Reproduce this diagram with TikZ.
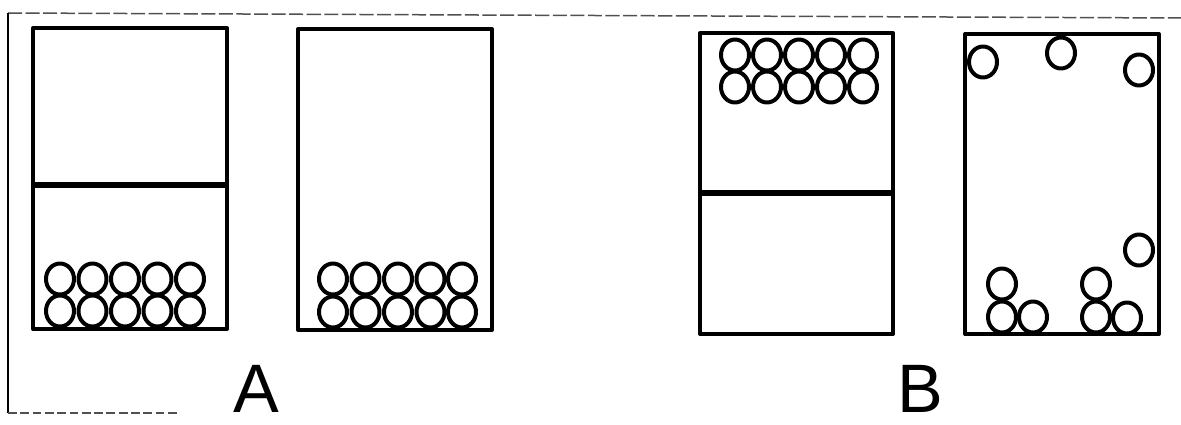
\documentclass[tikz,border=0pt]{standalone}
\usepackage{fontspec}
\setmainfont{Liberation Sans}
\usepackage{tikz}
\definecolor{scangray}{HTML}{505050}

\begin{document}
\begin{tikzpicture}[x=0.2mm, y=-0.2mm, line join=round]
  \tikzset{
    vessel/.style={line width=0.8mm},
    wall/.style={line width=1.2mm},
    ball/.style={line width=0.8mm},
    tag/.style={font=\fontsize{39}{41}\selectfont, inner sep=0pt}
  }
  \useasboundingbox (0,0) rectangle (1181,425);
  % frame left over from the scan
  \draw[scangray, line width=0.3mm, dash pattern=on 8pt off 2pt] (8,13) -- (1181,18);
  \draw[line width=0.3mm] (8,13) -- (8,413);
  \draw[scangray, line width=0.3mm, dash pattern=on 5pt off 2pt] (8,413) -- (180,413);
  % A: divided vessel and open vessel, balls at the bottom
  \draw[vessel] (33,28) rectangle (227,329);
  \draw[wall] (33,185) -- (227,185);
  \draw[vessel] (298,29) rectangle (492,330);
  \foreach \x in {60,92.5,125,157.5,190} {
    \draw[ball] (\x,279) ellipse (14 and 15.5);
    \draw[ball] (\x,311) ellipse (14 and 15.5);
  }
  \foreach \x in {333,365.5,398,430.5,462} {
    \draw[ball] (\x,279) ellipse (14 and 15.5);
    \draw[ball] (\x,312) ellipse (14 and 15.5);
  }
  \node[tag] (labA) at (256,389) {A};
  % B: balls packed at the top, then scattered
  \draw[vessel] (700,33) rectangle (893,334);
  \draw[wall] (700,193) -- (893,193);
  \foreach \x in {735,767,799,831,863} {
    \draw[ball] (\x,55) ellipse (14 and 15.5);
    \draw[ball] (\x,87) ellipse (14 and 15.5);
  }
  \draw[vessel] (965,34) rectangle (1159,334);
  \foreach \x/\y in {983/62, 1061/53, 1139/70, 1139/250, 1002/284, 1002/317,
                     1033/317, 1096/284, 1096/317, 1127/318}
    \draw[ball] (\x,\y) ellipse (14 and 15.5);
  \node[tag] (labB) at (920,389) {B};
\end{tikzpicture}
\end{document}
